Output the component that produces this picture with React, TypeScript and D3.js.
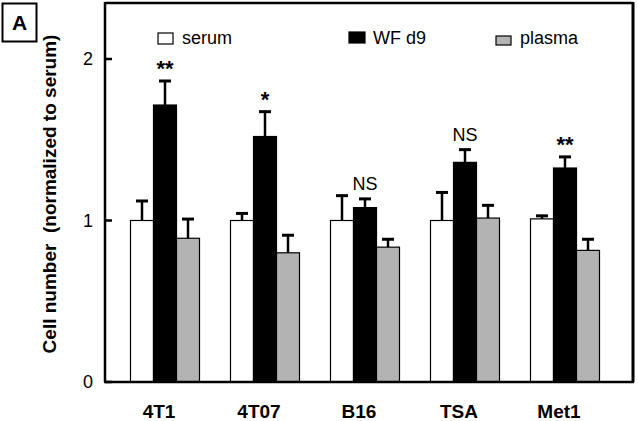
import React, { useEffect } from 'react'
import { scaleLinear, scaleBand } from 'd3'

const W = 638
const H = 421

const cellLines = ['4T1', '4T07', 'B16', 'TSA', 'Met1']
const seriesNames = ['serum', 'WF d9', 'plasma']
const serumMean = [1.0, 1.0, 1.0, 1.0, 1.01]
const serumErr = [0.127, 0.05, 0.16, 0.18, 0.025]
const wfMean = [1.715, 1.52, 1.08, 1.36, 1.325]
const wfErr = [0.155, 0.16, 0.06, 0.085, 0.075]
const plasmaMean = [0.89, 0.8, 0.835, 1.015, 0.815]
const plasmaErr = [0.125, 0.115, 0.055, 0.085, 0.075]
const signif = ['**', '*', 'NS', 'NS', '**']
const yTicks = [0, 1, 2]

const fills = ['#ffffff', '#000000', '#b3b3b3']
const font = "'Liberation Sans', Arial, sans-serif"

const margin = { top: 2, right: 5, bottom: 39, left: 105 }

export default function App() {
  useEffect(() => {
    document.body.style.margin = '0'
  }, [])

  const plotRight = W - margin.right
  const plotBottom = H - margin.bottom

  const y = scaleLinear().domain([0, 1]).range([plotBottom, plotBottom - 161.5])
  const x0 = scaleBand().domain(cellLines).range([115, 615]).paddingInner(0.31).paddingOuter(0.155)
  const x1 = scaleBand().domain(seriesNames).range([0, x0.bandwidth()])

  const means = [serumMean, wfMean, plasmaMean]
  const errs = [serumErr, wfErr, plasmaErr]

  const legend = [
    { name: 'serum', bx: 158, by: 33, s: 15, h: 11 },
    { name: 'WF d9', bx: 349, by: 32, s: 16, h: 11 },
    { name: 'plasma', bx: 496, by: 36, s: 15, h: 9 },
  ]

  return (
    <svg width={W} height={H} style={{ display: 'block', background: '#fff' }} fontFamily={font}>
      {/* panel label */}
      <rect x={2.5} y={3.5} width={34} height={38} fill="none" stroke="#000" strokeWidth={2} />
      <text x={19.5} y={30} textAnchor="middle" fontSize={21} fontWeight="bold">A</text>

      {/* frame */}
      <line x1={margin.left} x2={plotRight} y1={margin.top + 1} y2={margin.top + 1} stroke="#000" strokeWidth={2.5} />
      <line x1={plotRight} x2={plotRight} y1={margin.top} y2={plotBottom} stroke="#000" strokeWidth={3} />

      {/* bars */}
      {cellLines.map((c, i) => (
        <g key={c}>
          {seriesNames.map((s, j) => {
            const bx = (x0(c) ?? 0) + (x1(s) ?? 0)
            const bw = x1.bandwidth()
            const v = means[j][i]
            const e = errs[j][i]
            const cx = bx + bw / 2
            return (
              <g key={s}>
                <line x1={cx} x2={cx} y1={y(v)} y2={y(v + e)} stroke="#000" strokeWidth={2.5} />
                <line x1={cx - 6} x2={cx + 6} y1={y(v + e) + 1} y2={y(v + e) + 1} stroke="#000" strokeWidth={3} />
                <rect x={bx} y={y(v)} width={bw} height={y(0) - y(v)} fill={fills[j]} stroke="#000" strokeWidth={1.2} />
              </g>
            )
          })}
          <text
            x={(x0(c) ?? 0) + (x1('WF d9') ?? 0) + x1.bandwidth() / 2}
            y={y(wfMean[i] + wfErr[i]) - (signif[i] === 'NS' ? 8 : 4)}
            textAnchor="middle"
            fontSize={signif[i] === 'NS' ? 18 : 22}
            fontWeight={signif[i] === 'NS' ? 'normal' : 'bold'}
          >
            {signif[i]}
          </text>
          <text
            x={(x0(c) ?? 0) + x0.bandwidth() / 2 - 6}
            y={plotBottom + 36}
            textAnchor="middle"
            fontSize={19}
            fontWeight="bold"
          >
            {c}
          </text>
        </g>
      ))}

      {/* y axis */}
      <line x1={margin.left} x2={margin.left} y1={margin.top} y2={plotBottom} stroke="#000" strokeWidth={2.5} />
      <line x1={margin.left - 1} x2={plotRight + 1} y1={plotBottom} y2={plotBottom} stroke="#000" strokeWidth={2.5} />
      {yTicks.map((t) => (
        <g key={t}>
          <line x1={margin.left} x2={margin.left + 7} y1={y(t)} y2={y(t)} stroke="#000" strokeWidth={2.5} />
          <text x={88} y={y(t) + 6} textAnchor="middle" fontSize={18}>{t}</text>
        </g>
      ))}
      <text
        transform={`translate(56, ${(margin.top + plotBottom) / 2 + 2}) rotate(-90)`}
        textAnchor="middle"
        fontSize={19}
        fontWeight="bold"
        style={{ whiteSpace: 'pre' }}
      >
        {'Cell number  (normalized to serum)'}
      </text>

      {/* legend */}
      {legend.map((l, k) => (
        <g key={l.name}>
          <rect x={l.bx} y={l.by} width={l.s} height={l.h} fill={fills[k]} stroke="#000" strokeWidth={1.2} />
          <text x={l.bx + 24} y={44} fontSize={18}>{l.name}</text>
        </g>
      ))}
    </svg>
  )
}
